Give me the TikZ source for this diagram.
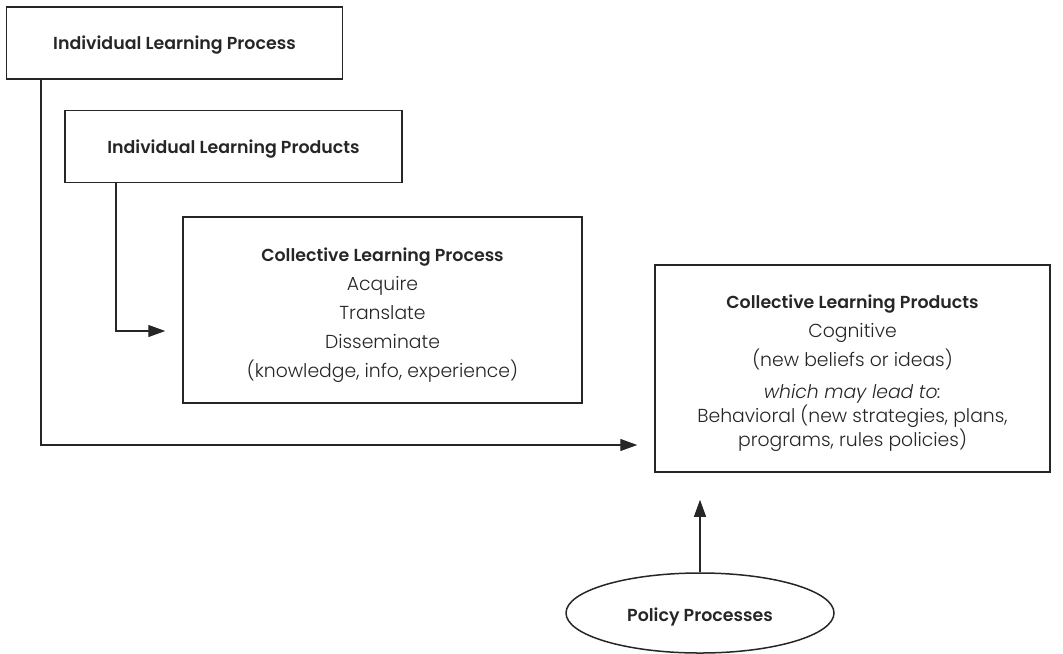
\documentclass[tikz,border=0pt]{standalone}
\usepackage{fontspec}
\setmainfont{Poppins}[UprightFont=* Light,ItalicFont=* Light Italic,BoldFont=* SemiBold,BoldItalicFont=* SemiBold Italic]
\usetikzlibrary{arrows.meta,shapes.geometric}
\definecolor{ink}{HTML}{262626}
\newcommand{\headfont}{\fontsize{8.7}{12}\selectfont\bfseries}
\begin{document}
\begin{tikzpicture}[x=0.5pt,y=-0.5pt,
  every node/.style={text=ink,font=\fontsize{9.4}{12}\selectfont},
  box/.style={draw=ink,line width=0.75pt,rectangle,inner sep=0pt},
  arr/.style={draw=ink,line width=0.6pt,-{Triangle[length=8.5pt,width=6pt]}}]
\useasboundingbox (0,0) rectangle (1063,653);

% boxes
\node[box,minimum width=168pt,minimum height=36pt,
  label={[font=\headfont,yshift=-1pt]center:Individual Learning Process}] (b1) at (174.5,43) {};
\node[box,minimum width=168.5pt,minimum height=36pt,
  label={[font=\headfont,yshift=-1.5pt]center:Individual Learning Products}] (b2) at (233.5,146.5) {};
\node[box,minimum width=199.5pt,minimum height=93pt,
  label={[align=center,yshift=-2.5pt]center:{{\headfont Collective Learning Process}\\[2.5pt]Acquire\\[2.5pt]Translate\\[2.5pt]Disseminate\\[2.5pt](knowledge, info, experience)}}] (b3) at (382.5,310) {};
\node[box,minimum width=197.5pt,minimum height=103.5pt,
  label={[align=center,yshift=-2.5pt]center:{{\headfont Collective Learning Products}\\[2.5pt]Cognitive\\[2.5pt](new beliefs or ideas)\\[4pt]\textit{which may lead to:}\\Behavioral (new strategies, plans,\\programs, rules policies)}}] (b4) at (852.5,368.5) {};
\node[draw=ink,line width=0.75pt,ellipse,minimum width=134pt,minimum height=40pt,inner sep=0pt,
  label={[font=\headfont,yshift=-2pt]center:Policy Processes}] (pp) at (700,613) {};

% connectors
\coordinate (c1) at (41,445);
\coordinate (c2) at (116,331);
\draw[arr,shorten >=8.5pt] (b1.south -| c1) -- (c1) -- (c1 -| b4.west);
\draw[arr,shorten >=8.5pt] (b2.south -| c2) -- (c2) -- (c2 -| b3.west);
\draw[arr,shorten >=13.5pt] (pp.north) -- (pp.north |- b4.south);
\end{tikzpicture}
\end{document}
